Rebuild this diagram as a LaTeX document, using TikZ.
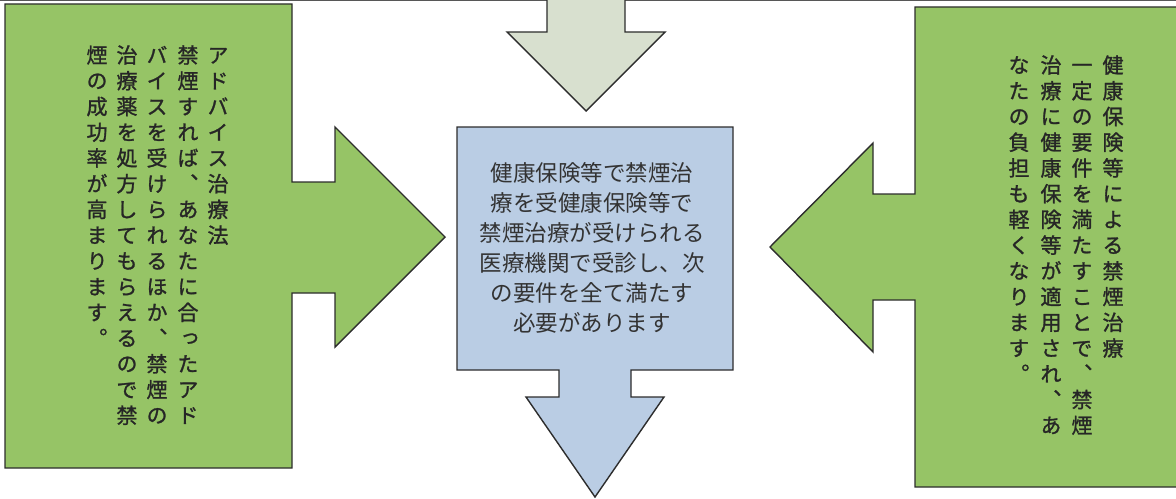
\documentclass[tikz,border=0pt]{standalone}
\usepackage{fontspec}
\newfontfamily\jpfont{Noto Sans CJK JP}
\newfontfamily\jptate[RawFeature=+vert, FakeBold=1.2]{Noto Sans CJK JP}
\definecolor{midorigreen}{RGB}{150,196,102}
\definecolor{aoblue}{RGB}{186,205,228}
\definecolor{haigreen}{RGB}{216,224,207}
\definecolor{waku}{RGB}{45,45,45}

% 縦書き用: 1文字ずつ縦に積む
\makeatletter
\newcommand\tate[1]{\vtop{\baselineskip=18.3pt\lineskip=0pt\lineskiplimit=-100pt\tate@#1\@nil}}
\def\tate@#1{\ifx\@nil#1\else\hbox to 1em{\hss#1\hss}\expandafter\tate@\fi}
\makeatother

\tikzset{
  katachi/.style={draw=waku, line width=1pt, line join=miter},
  tatecol/.style={anchor=base, inner sep=0pt, text=black!85, font=\jptate\fontsize{15pt}{18.3pt}\selectfont},
  yokotext/.style={align=center, inner sep=0pt, text=black!80, font=\jpfont\fontsize{16pt}{21.3pt}\selectfont}
}

\begin{document}
\begin{tikzpicture}[x=0.025cm, y=-0.025cm]
    \useasboundingbox (0,0) rectangle (1176,499);

    % 上の枠線
    \draw[waku!80, line width=1.2pt] (0,0.5) -- (1176,0.5);

    % 上の矢印
    \fill[haigreen] (547,-5) -- (547,32) -- (507,32) -- (586,111) -- (665,32) -- (625,32) -- (625,-5) -- cycle;
    \draw[katachi] (547,-5) -- (547,32) -- (507,32) -- (586,111) -- (665,32) -- (625,32) -- (625,-5);

    % 左の矢印付きボックス
    \draw[katachi, fill=midorigreen] (5,4) -- (292,4) -- (292,182) -- (335,182) -- (335,127) -- (445,237)
      -- (335,347) -- (335,293) -- (292,293) -- (292,468) -- (5,468) -- cycle;

    % 右の矢印付きボックス
    \draw[katachi, fill=midorigreen] (1190,7) -- (915,7) -- (915,194) -- (873,194) -- (873,143) -- (770,247)
      -- (873,352) -- (873,300) -- (915,300) -- (915,487) -- (1190,487) -- cycle;

    % 中央のボックスと下の矢印
    \draw[katachi, fill=aoblue] (457,127) -- (733,127) -- (733,370) -- (631,370) -- (631,397) -- (664,397)
      -- (595,497) -- (526,397) -- (559,397) -- (559,370) -- (457,370) -- cycle;

    % ノードの定義
    \node[tatecol] (hidari1) at (218,63) {\tate{アドバイス治療法}};
    \node[tatecol] (hidari2) at (188,63) {\tate{禁煙すれば、あなたに合ったアド}};
    \node[tatecol] (hidari3) at (157,63) {\tate{バイスを受けられるほか、禁煙の}};
    \node[tatecol] (hidari4) at (127,63) {\tate{治療薬を処方してもらえるので禁}};
    \node[tatecol] (hidari5) at (97,63) {\tate{煙の成功率が高まります。}};

    \node[tatecol] (migi1) at (1113,73) {\tate{健康保険等による禁煙治療}};
    \node[tatecol] (migi2) at (1082,73) {\tate{一定の要件を満たすことで、禁煙}};
    \node[tatecol] (migi3) at (1051,73) {\tate{治療に健康保険等が適用され、あ}};
    \node[tatecol] (migi4) at (1019,73) {\tate{なたの負担も軽くなります。}};

    \node[yokotext] (naka) at (592,248) {健康保険等で禁煙治\\療を受健康保険等で\\禁煙治療が受けられる\\医療機関で受診し、次\\の要件を全て満たす\\必要があります};

  \end{tikzpicture}
\end{document}
